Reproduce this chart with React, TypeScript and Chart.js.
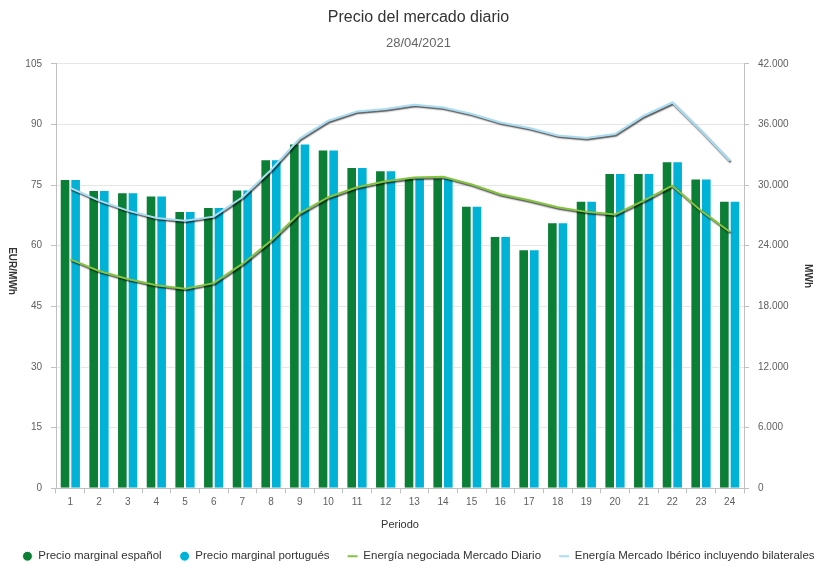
import React, { useEffect, useRef } from 'react';
import { Chart, registerables } from 'chart.js';

Chart.register(...registerables);

const chartTitle = 'Precio del mercado diario';
const chartSubtitle = '28/04/2021';
const xTitle = 'Periodo';
const yLeftTitle = 'EUR/MWh';
const yRightTitle = 'MWh';

const periods = ['1', '2', '3', '4', '5', '6', '7', '8', '9', '10', '11', '12', '13', '14', '15', '16', '17', '18', '19', '20', '21', '22', '23', '24'];

const precioES = [76.5, 73.8, 73.2, 72.4, 68.6, 69.6, 73.9, 81.4, 85.3, 83.8, 79.5, 78.7, 76.8, 76.8, 69.9, 62.4, 59.1, 65.8, 71.1, 78.0, 78.0, 80.9, 76.6, 71.1];
const precioPT = [76.5, 73.8, 73.2, 72.4, 68.6, 69.6, 73.9, 81.4, 85.3, 83.8, 79.5, 78.7, 76.8, 76.8, 69.9, 62.4, 59.1, 65.8, 71.1, 78.0, 78.0, 80.9, 76.6, 71.1];
const energiaMD = [22650, 21500, 20700, 20100, 19750, 20300, 22200, 24500, 27200, 28800, 29780, 30370, 30760, 30830, 30050, 29100, 28500, 27800, 27350, 27100, 28460, 29940, 27470, 25380];
const energiaIB = [29710, 28460, 27470, 26750, 26480, 26880, 28790, 31490, 34600, 36370, 37290, 37520, 37950, 37680, 37030, 36200, 35640, 34900, 34660, 35050, 36860, 38170, 35380, 32410];

const seriesNames = [
  'Precio marginal español',
  'Precio marginal portugués',
  'Energía negociada Mercado Diario',
  'Energía Mercado Ibérico incluyendo bilaterales',
];

const FONT = "'Liberation Sans', Arial, sans-serif";

export default function App() {
  const canvasRef = useRef<HTMLCanvasElement | null>(null);

  useEffect(() => {
    document.body.style.margin = '0';
    const canvas = canvasRef.current;
    if (!canvas) return;
    Chart.defaults.font.family = FONT;

    const fmt = (v: number) => String(v).replace(/\B(?=(\d{3})+(?!\d))/g, '.');

    const shadowPlugin = {
      id: 'lineShadow',
      beforeDatasetDraw(chart: any, args: any) {
        const ds = chart.data.datasets[args.index];
        if (ds.type === 'line') {
          const ctx = chart.ctx;
          ctx.save();
          ctx.shadowColor = 'rgba(0,0,0,0.75)';
          ctx.shadowOffsetX = 1;
          ctx.shadowOffsetY = 1.5;
          ctx.shadowBlur = 1.5;
        }
      },
      afterDatasetDraw(chart: any, args: any) {
        const ds = chart.data.datasets[args.index];
        if (ds.type === 'line') chart.ctx.restore();
      },
    };

    const leftTitlePlugin = {
      id: 'leftTitle',
      afterDraw(chart: any) {
        const { ctx, chartArea } = chart;
        ctx.save();
        ctx.translate(12, (chartArea.top + chartArea.bottom) / 2 - 5);
        ctx.rotate(Math.PI / 2);
        ctx.font = `bold 10px ${FONT}`;
        ctx.fillStyle = '#333333';
        ctx.textAlign = 'center';
        ctx.textBaseline = 'middle';
        ctx.fillText(yLeftTitle, 0, 0);
        ctx.restore();
      },
    };

    const chart = new Chart(canvas, {
      type: 'bar',
      data: {
        labels: periods,
        datasets: [
          {
            type: 'bar',
            label: seriesNames[0],
            data: precioES,
            backgroundColor: '#0a7f35',
            borderColor: '#ffffff',
            borderWidth: 1,
            yAxisID: 'y',
            order: 1,
            pointStyle: 'circle',
            categoryPercentage: 0.74,
            barPercentage: 1,
          },
          {
            type: 'bar',
            label: seriesNames[1],
            data: precioPT,
            backgroundColor: '#00b3d6',
            borderColor: '#ffffff',
            borderWidth: 1,
            yAxisID: 'y',
            order: 1,
            pointStyle: 'circle',
            categoryPercentage: 0.74,
            barPercentage: 1,
          },
          {
            type: 'line',
            label: seriesNames[2],
            data: energiaMD,
            borderColor: '#84c441',
            backgroundColor: '#84c441',
            borderWidth: 2,
            pointRadius: 0,
            pointHoverRadius: 0,
            tension: 0,
            yAxisID: 'y1',
            order: 0,
            pointStyle: 'line',
          },
          {
            type: 'line',
            label: seriesNames[3],
            data: energiaIB,
            borderColor: '#a9dcf0',
            backgroundColor: '#a9dcf0',
            borderWidth: 2,
            pointRadius: 0,
            pointHoverRadius: 0,
            tension: 0,
            yAxisID: 'y1',
            order: 0,
            pointStyle: 'line',
          },
        ],
      },
      options: {
        animation: false,
        responsive: false,
        maintainAspectRatio: false,
        layout: { padding: { top: 0, left: 0, right: 0, bottom: -6 } },
        plugins: {
          title: {
            display: true,
            text: chartTitle,
            color: '#333333',
            font: { size: 16, weight: 'normal', family: FONT },
            padding: { top: 8, bottom: 6 },
          },
          subtitle: {
            display: true,
            text: chartSubtitle,
            color: '#666666',
            font: { size: 13, weight: 'normal', family: FONT },
            padding: { top: 2, bottom: 13 },
          },
          legend: {
            position: 'bottom',
            labels: {
              usePointStyle: true,
              boxWidth: 10,
              boxHeight: 7,
              padding: 18,
              color: '#333333',
              font: { size: 11.5, family: FONT },
              sort: (a: any, b: any) => a.datasetIndex - b.datasetIndex,
            },
          },
          tooltip: { enabled: false },
        },
        scales: {
          x: {
            grid: {
              display: true,
              drawOnChartArea: false,
              drawTicks: true,
              tickLength: 5,
              tickColor: '#c0c0c0',
              offset: true,
            },
            border: { display: true, color: '#c0c0c0' },
            ticks: { color: '#606060', font: { size: 10 }, padding: 3, maxRotation: 0, autoSkip: false },
            title: {
              display: true,
              text: xTitle,
              color: '#333333',
              font: { size: 11, family: FONT },
              padding: { top: 7, bottom: 1 },
            },
          },
          y: {
            position: 'left',
            min: 0,
            max: 105,
            grid: { color: '#e6e6e6', tickColor: '#c0c0c0', tickLength: 5 },
            border: { display: true, color: '#c0c0c0' },
            ticks: { stepSize: 15, color: '#606060', font: { size: 10 }, padding: 9 },
            afterFit: (scale: any) => {
              scale.width = 56;
            },
          },
          y1: {
            position: 'right',
            min: 0,
            max: 42000,
            grid: { drawOnChartArea: false, tickColor: '#c0c0c0', tickLength: 5 },
            border: { display: true, color: '#c0c0c0' },
            ticks: {
              stepSize: 6000,
              color: '#606060',
              font: { size: 10 },
              padding: 9,
              callback: (v: any) => fmt(Number(v)),
            },
            title: {
              display: true,
              text: yRightTitle,
              color: '#333333',
              font: { size: 10, weight: 'bold', family: FONT },
              padding: { top: 23, bottom: 0 },
            },
            afterFit: (scale: any) => {
              scale.width = 93;
            },
          },
        },
      },
      plugins: [shadowPlugin, leftTitlePlugin],
    } as any);

    return () => chart.destroy();
  }, []);

  return (
    <div style={{ position: 'fixed', left: 0, top: 0, width: 837, height: 566, background: '#ffffff' }}>
      <canvas ref={canvasRef} width={837} height={566} style={{ display: 'block' }} />
    </div>
  );
}
